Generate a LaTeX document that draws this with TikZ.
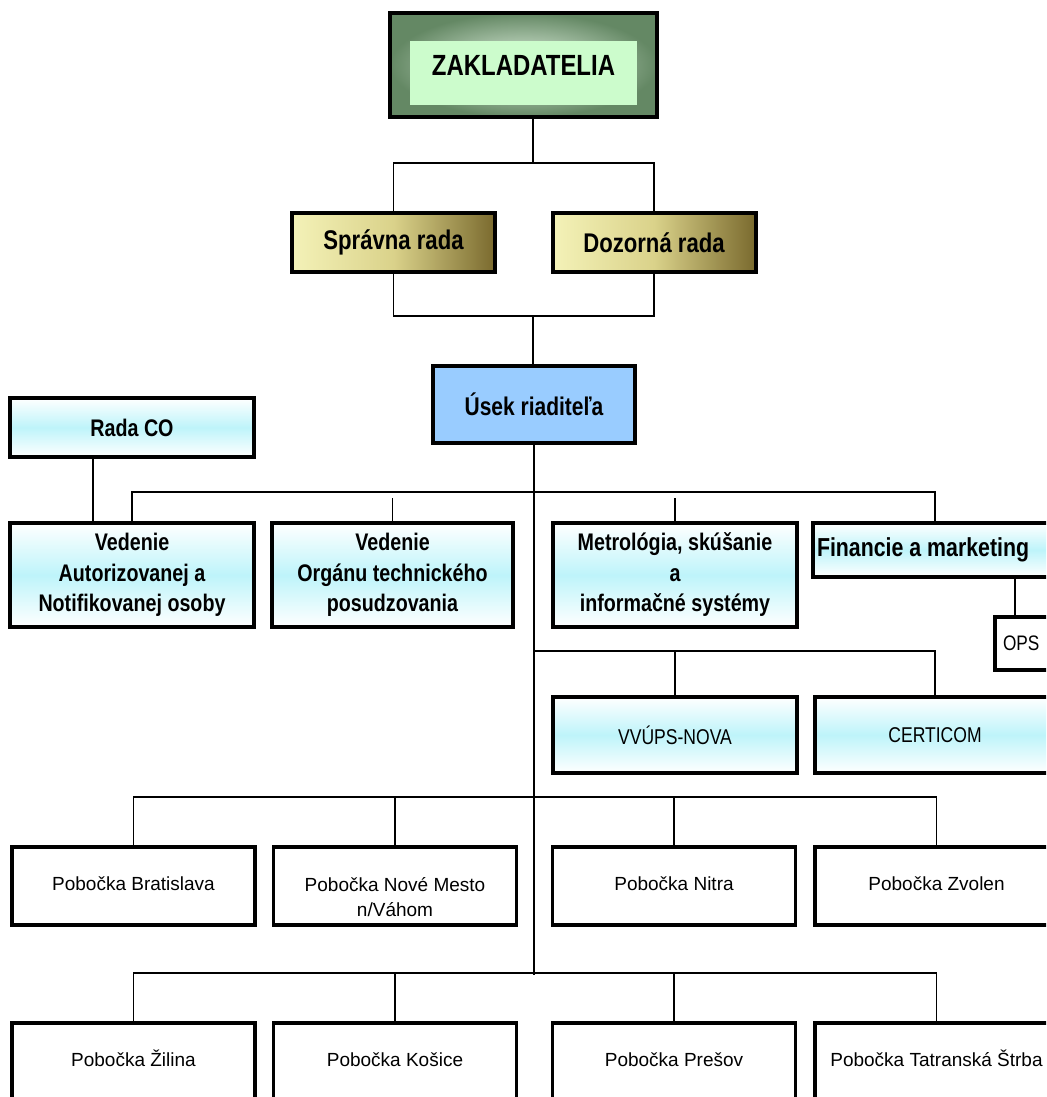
\documentclass[tikz,border=0pt]{standalone}
\usepackage{fontspec}
\setmainfont{Liberation Sans}[FakeStretch=0.82]
\newfontfamily\branchfont{Liberation Sans}

\definecolor{zakdark}{RGB}{100,136,100}
\definecolor{zakmid}{RGB}{225,242,225}
\definecolor{zakpanel}{RGB}{204,252,204}
\definecolor{boardlight}{RGB}{244,242,184}
\definecolor{boardmid}{RGB}{218,210,138}
\definecolor{boarddark}{RGB}{122,106,46}
\definecolor{directorblue}{RGB}{153,204,255}
\definecolor{deptcyan}{RGB}{190,244,250}

\begin{document}
\begin{tikzpicture}
    \tikzstyle{block} = [rectangle,draw=black,line width=2pt,inner sep=2pt,align=center];
    \tikzstyle{founders} = [block,shade,outer color=zakdark,inner color=zakmid,
    font=\bfseries\fontsize{14.6}{17}\selectfont,
    path picture={\fill[zakpanel] ([xshift=10pt,yshift=-14pt]path picture bounding box.north west)
    rectangle ([xshift=-10pt,yshift=6pt]path picture bounding box.south east);}];
    \tikzstyle{board} = [block,shade,left color=boardlight,right color=boarddark,middle color=boardmid,
    minimum width=101.5pt,minimum height=29.5pt,font=\bfseries\fontsize{13.5}{16}\selectfont];
    \tikzstyle{director} = [block,fill=directorblue,minimum width=101pt,minimum height=38.5pt,
    font=\bfseries\fontsize{12.8}{15}\selectfont];
    \tikzstyle{dept} = [block,shade,top color=white,bottom color=white,middle color=deptcyan,
    minimum width=122pt,minimum height=52pt,font=\bfseries\fontsize{12}{15.25}\selectfont];
    \tikzstyle{firm} = [dept,minimum height=38pt,font=\fontsize{10.7}{13}\selectfont];
    \tikzstyle{branch} = [block,fill=white,line width=1.9pt,minimum width=121.5pt,minimum height=39pt,
    text height=7pt,text depth=2.2pt,font=\branchfont\fontsize{9.5}{12.5}\selectfont];
    \tikzstyle{link} = [black,line width=0.8pt];

    \useasboundingbox[fill=white] (0,0) rectangle (523pt,-548.5pt);
    \clip (0,0) rectangle (523pt,-548.5pt);

    \node[founders,name=zak,minimum width=133.5pt,minimum height=52pt] at (261.75pt,-32.5pt) {ZAKLADATELIA};

    \node[board,name=spravna,below of=zak,node distance=88.75pt,xshift=-65pt] {Správna rada};
    \node[board,name=dozorna,right of=spravna,node distance=130.25pt] {Dozorná rada};

    \node[director,name=usek,below of=zak,node distance=169.75pt,xshift=5.25pt] {Úsek riaditeľa};

    \node[dept,name=radaco,left of=usek,node distance=201pt,yshift=-11.5pt,minimum height=29.5pt] {Rada CO};
    \node[dept,name=autor,below of=radaco,node distance=73.75pt] {Vedenie\\Autorizovanej a\\Notifikovanej osoby};
    \node[dept,name=organ,right of=autor,node distance=130.25pt,minimum width=120.5pt] {Vedenie\\Orgánu technického\\posudzovania};
    \node[dept,name=metro,right of=organ,node distance=141.25pt] {Metrológia, skúšanie\\a\\informačné systémy};
    \node[dept,name=financie,right of=metro,node distance=135.75pt,yshift=12.5pt,minimum height=27pt,
    text width=129.5pt,align=flush left,font=\bfseries\fontsize{13}{15}\selectfont] {Financie a marketing};
    \node[block,name=ops,fill=white,below of=financie,node distance=46.75pt,xshift=45.5pt,minimum height=26.5pt,
    inner xsep=4pt,text width=34.5pt,align=flush left,font=\fontsize{10.5}{12}\selectfont] {OPS};

    \node[firm,name=vvups,below of=metro,node distance=80pt] {VVÚPS-NOVA};
    \node[firm,name=certicom,right of=vvups,node distance=130pt,minimum width=120pt] {CERTICOM};

    \node[branch,name=bra,below of=autor,node distance=155.5pt,xshift=0.75pt] {Pobočka Bratislava};
    \node[branch,name=nm,right of=bra,node distance=130.75pt,inner ysep=0.5pt,text height={},text depth={}]
    {\strut\\Pobočka Nové Mesto\\n/Váhom\strut};
    \node[branch,name=nit,right of=nm,node distance=139.5pt] {Pobočka Nitra};
    \node[branch,name=zvo,right of=nit,node distance=131.25pt] {Pobočka Zvolen};

    \node[branch,name=zil,below of=bra,node distance=88pt] {Pobočka Žilina};
    \node[branch,name=kos,below of=nm,node distance=88pt] {Pobočka Košice};
    \node[branch,name=pre,below of=nit,node distance=88pt] {Pobočka Prešov};
    \node[branch,name=tat,below of=zvo,node distance=88pt] {Pobočka Tatranská Štrba};

    % founders and boards
    \coordinate (fork) at (266.5pt,-81.5pt);
    \coordinate (join) at (266.5pt,-158pt);
    \draw[link] (zak.south -| fork) -- (fork);
    \draw[link] (spravna.north) |- (fork) -| (dozorna.north);
    \draw[link] (spravna.south) |- (join) -| (dozorna.south);
    \draw[link] (join) -- (join |- usek.north);

    % trunk
    \coordinate (trunkend) at (266.75pt,-487.5pt);
    \draw[link] (usek.south) -- (usek.south |- trunkend);

    % departments
    \coordinate (bus1) at (267pt,-246pt);
    \coordinate (finbus) at (467.5pt,-246pt);
    \coordinate (coline) at (46.5pt,0pt);
    \coordinate (opsline) at (507.5pt,0pt);
    \draw[link] (autor.north) |- (finbus) -- (finbus |- financie.north);
    \draw[link,shorten <=3pt] (organ.north |- bus1) -- (organ.north);
    \draw[link,shorten <=3pt] (metro.north |- bus1) -- (metro.north);
    \draw[link] (radaco.south -| coline) -- (autor.north -| coline);
    \draw[link] (financie.south -| opsline) -- (ops.north -| opsline);

    % companies
    \coordinate (bus2) at (267pt,-325.5pt);
    \draw[link] (bus2) -| (certicom.north);
    \draw[link] (vvups.north) -- (vvups.north |- bus2);

    % branches
    \coordinate (bus3) at (267pt,-398.5pt);
    \coordinate (bus4) at (267pt,-486.5pt);
    \draw[link] (bra.north) |- (bus3) -| (zvo.north);
    \draw[link] (nm.north) -- (nm.north |- bus3);
    \draw[link] (nit.north) -- (nit.north |- bus3);
    \draw[link] (zil.north) |- (bus4) -| (tat.north);
    \draw[link] (kos.north) -- (kos.north |- bus4);
    \draw[link] (pre.north) -- (pre.north |- bus4);

  \end{tikzpicture}
\end{document}
